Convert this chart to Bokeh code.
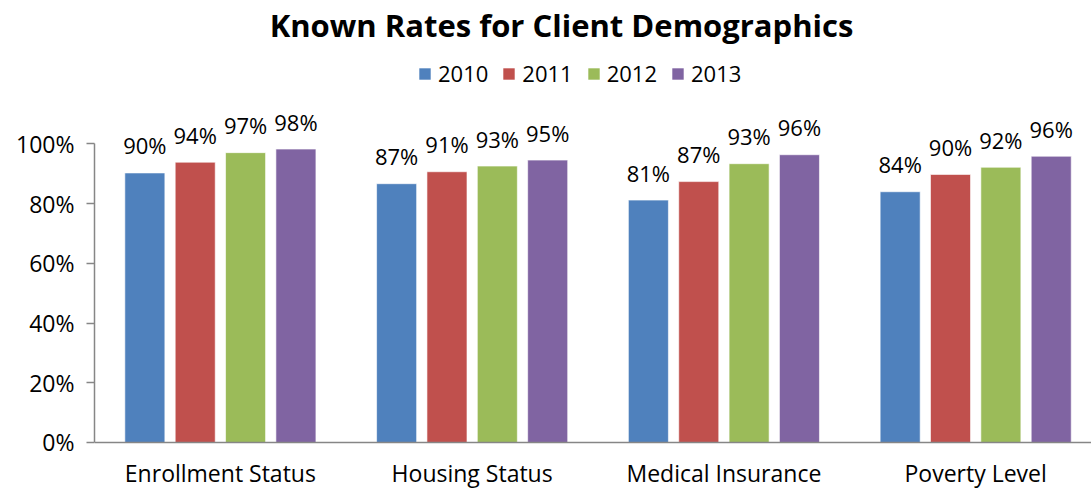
import numpy as np
from bokeh.plotting import figure
from bokeh.models import (ColumnDataSource, Range1d, FixedTicker, NumeralTickFormatter,
                          Legend, LegendItem, LabelSet, Label)
from bokeh.core.properties import value
from bokeh.embed import file_html
from bokeh.resources import INLINE

title_text = "Known Rates for Client Demographics"
categories = ["Enrollment Status", "Housing Status", "Medical Insurance", "Poverty Level"]
series_names = ["2010", "2011", "2012", "2013"]
values_2010 = [0.903, 0.867, 0.812, 0.840]
values_2011 = [0.939, 0.907, 0.874, 0.898]
values_2012 = [0.971, 0.926, 0.934, 0.922]
values_2013 = [0.983, 0.946, 0.964, 0.959]
colors = ["#4F81BD", "#C0504D", "#9BBB59", "#8064A2"]
y_ticks = [0, 0.2, 0.4, 0.6, 0.8, 1.0]

all_values = [values_2010, values_2011, values_2012, values_2013]
FONT = "Open Sans"

p = figure(width=1091, height=489, output_backend="svg", toolbar_location=None,
           x_range=Range1d(0, 3.96), y_range=Range1d(-0.1575, 1.4807),
           min_border_left=94, min_border_right=0, min_border_top=0, min_border_bottom=0)
p.outline_line_color = None
p.xgrid.grid_line_color = None
p.ygrid.grid_line_color = None
p.background_fill_color = "white"
p.border_fill_color = "white"

p.add_layout(Label(x=467, y=465, x_units="screen", y_units="screen", text=title_text,
                   text_align="center", text_baseline="alphabetic", text_font=FONT,
                   text_font_style="bold", text_font_size="31px", text_color="black"))

cat_x = np.arange(len(categories)) + 0.5
items = []
for i, (name, vals, col) in enumerate(zip(series_names, all_values, colors)):
    xs = cat_x + (i - 1.5) * 0.2
    src = ColumnDataSource(dict(x=xs, top=vals, label=[f"{round(v * 100)}%" for v in vals]))
    r = p.vbar(x="x", top="top", width=0.159, source=src, fill_color=col,
               line_color="white", line_alpha=0.6, line_width=1)
    items.append(LegendItem(label=name, renderers=[r]))
    p.add_layout(LabelSet(x="x", y="top", text="label", source=src, text_align="center",
                          text_baseline="alphabetic", y_offset=18.5, text_font=value(FONT),
                          text_font_size=value("22px"), text_color="black"))

legend = Legend(items=items, orientation="horizontal", location=(323, 401),
                glyph_width=15, glyph_height=15, label_standoff=6, spacing=13,
                padding=0, margin=0, border_line_color=None, background_fill_alpha=0,
                label_text_font=FONT, label_text_font_size="22px", label_text_color="black")
p.add_layout(legend)

ax = p.yaxis[0]
ax.ticker = FixedTicker(ticks=y_ticks)
ax.formatter = NumeralTickFormatter(format="0%")
ax.bounds = (0, 1)
ax.axis_line_color = "#868686"
ax.axis_line_width = 1.5
ax.major_tick_line_color = "#868686"
ax.major_tick_line_width = 1.5
ax.major_tick_out = 8
ax.major_tick_in = 0
ax.minor_tick_line_color = None
ax.major_label_standoff = 12
ax.major_label_text_font = FONT
ax.major_label_text_font_size = "23px"
ax.major_label_text_color = "black"

xa = p.xaxis[0]
xa.fixed_location = 0
xa.ticker = FixedTicker(ticks=list(cat_x))
xa.major_label_overrides = {float(x): c for x, c in zip(cat_x, categories)}
xa.axis_line_color = "#868686"
xa.axis_line_width = 1.5
xa.major_tick_line_color = None
xa.major_tick_out = 0
xa.major_tick_in = 0
xa.minor_tick_line_color = None
xa.major_label_standoff = 15
xa.major_label_text_font = FONT
xa.major_label_text_font_size = "23px"
xa.major_label_text_color = "black"

open("out.html", "w").write(file_html(p, INLINE))
